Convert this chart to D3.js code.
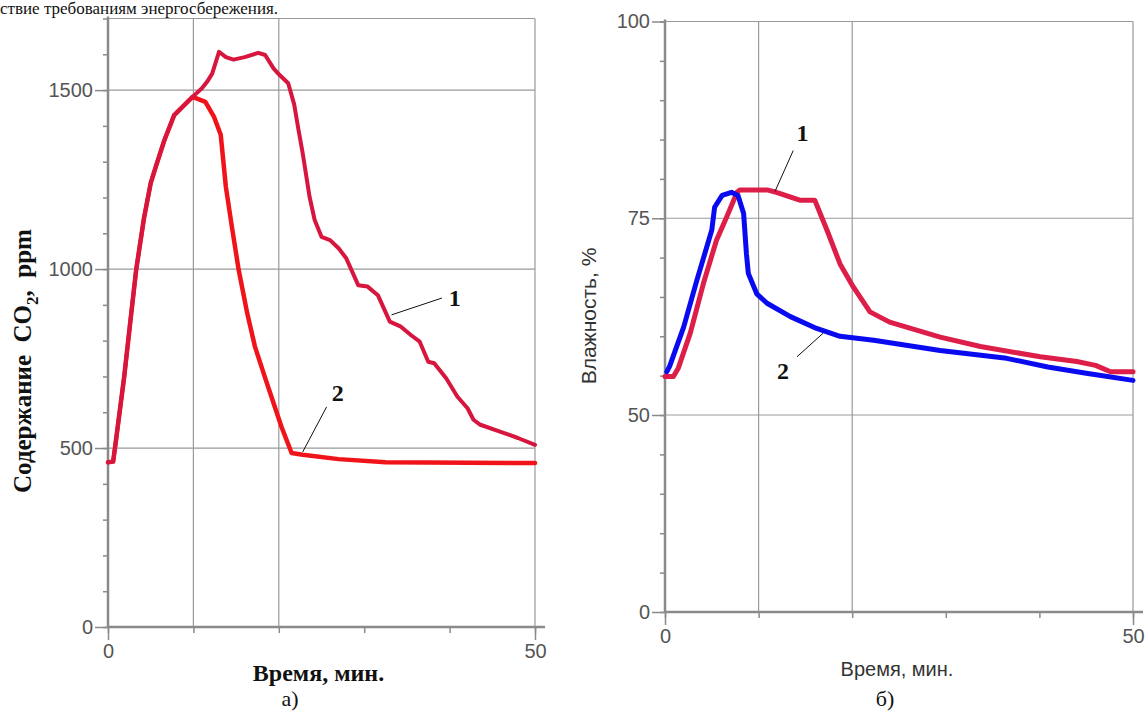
<!DOCTYPE html>
<html>
<head>
<meta charset="utf-8">
<script src="https://cdn.jsdelivr.net/npm/d3@7"></script>
<style>
	body { margin: 0; background: #fff; }
	svg { display: block; }
</style>
</head>
<body>
<div id="container"></div>
<script>
//// Two panels: CO2 (а) and humidity (б) vs time ////

// x axis (time, min)
const timeTicks = [0, 10, 20, 30, 40, 50];
const timeLabels = [0, 50];
const timeGrid = [10, 20, 50];

// panel а: CO2, ppm
const co2Ticks = d3.range(0, 1701, 100);
const co2Labels = [0, 500, 1000, 1500];
const co2Grid = [500, 1000, 1500, 1700];

// [time, ppm]
const co2Curve1 = [[0,460],[0.6,462],[0.9,515],[1.9,700],[2.6,850],[3.3,998],[4.2,1140],[5.0,1240],[5.6,1286],[6.6,1360],[7.75,1430],[9.9,1481],[11.0,1505],[11.6,1523],[12.2,1546],[13.0,1607],[13.8,1592],[14.7,1585],[16.0,1592],[17.6,1604],[18.4,1598],[19.4,1560],[20.1,1542],[21.1,1519],[21.8,1460],[22.3,1390],[22.8,1323],[23.6,1202],[24.2,1137],[25.0,1090],[26.0,1081],[27.0,1058],[27.9,1030],[29.3,955],[30.4,951],[31.6,927],[33.0,853],[34.3,839],[35.5,815],[36.5,797],[37.5,741],[38.2,737],[39.6,695],[40.9,644],[42.1,611],[42.8,579],[43.6,565],[45.9,546],[48.0,528],[50,509]];
const co2Curve2 = [[0,460],[0.6,462],[0.9,515],[1.9,700],[2.6,850],[3.3,998],[4.2,1140],[5.0,1240],[5.6,1286],[6.6,1360],[7.75,1430],[9.9,1481],[11.4,1467],[12.4,1426],[13.2,1375],[13.8,1230],[14.5,1119],[15.3,998],[16.3,877],[17.2,784],[18.4,696],[19.0,653],[20.3,560],[21.5,486],[22.8,481],[27,469],[32.5,460],[50,458]];

// panel б: humidity, %
const humTicks = [0, 10, 20, 30, 40, 50, 55, 60, 65, 70, 75, 80, 85, 90, 95, 100];
const humLabels = [0, 50, 75, 100];
const humGrid = [50, 75, 100];

// [time, %]
const humCurve1 = [[0,54.9],[0.9,54.9],[1.4,55.9],[2.7,60.4],[4.1,66.7],[5.5,72.2],[6.6,75.2],[7.7,78.3],[8.0,78.6],[10.9,78.6],[11.9,78.3],[14.4,77.3],[16.0,77.3],[17.3,73.5],[18.7,69.2],[20.1,66.3],[21.9,63.1],[24,61.8],[29.4,59.9],[33.7,58.7],[40.1,57.4],[44,56.8],[46,56.3],[47.6,55.5],[50,55.5]];
const humCurve2 = [[0.2,55.5],[0.5,56.2],[2.0,61.2],[3.4,67.1],[5.0,73.5],[5.3,76.4],[6.1,77.9],[7.1,78.3],[7.8,77.9],[8.4,75.6],[8.7,70.5],[8.9,68],[9.8,65.4],[10.9,64.2],[13.4,62.5],[16.2,61],[18.7,60],[22.3,59.5],[29.4,58.2],[36.5,57.2],[40.9,56.1],[45,55.3],[50,54.4]];

// curve labels: leader start, leader end, text position (data units)
const co2Notes = [{text: "1", from: [33.2, 872], to: [39.1, 919], at: [40.6, 919]},
                  {text: "2", from: [22.8, 489], to: [25.6, 615], at: [26.9, 656]}];
const humNotes = [{text: "1", from: [11.75, 78.4], to: [13.7, 83.6], at: [14.7, 85.9]},
                  {text: "2", from: [14.1, 57.4], to: [16.9, 60.4], at: [12.6, 55.6]}];

const width = 1146, height = 711;
const gridColor = "#9a9a9a", axisColor = "#8a8a8a";
const sans = "'Liberation Sans', Arial, sans-serif";
const serif = "'Liberation Serif', 'Times New Roman', serif";

const svg = d3.create("svg")
	.attr("width", width)
	.attr("height", height)
	.attr("viewBox", [0, 0, width, height]);

// line of text from the page above the figure
svg.append("text")
	.attr("x", 0).attr("y", 14)
	.attr("font-family", serif).attr("font-size", 17)
	.attr("fill", "#111")
	.text("ствие требованиям энергосбережения.");

function panel(opt) {
	const x = opt.x, y = opt.y;
	const g = svg.append("g");
	const [x0, x1] = x.range();
	const y0 = y(y.domain()[0]), y1 = y(y.domain()[y.domain().length - 1]);

	// grid
	g.selectAll(".vgrid").data(timeGrid).join("line")
		.attr("x1", d => x(d)).attr("x2", d => x(d))
		.attr("y1", y0).attr("y2", y1)
		.attr("stroke", gridColor).attr("stroke-width", 1.2);
	g.selectAll(".hgrid").data(opt.grid).join("line")
		.attr("x1", x0).attr("x2", x1)
		.attr("y1", d => y(d)).attr("y2", d => y(d))
		.attr("stroke", gridColor).attr("stroke-width", 1.2);

	// y ticks: minor, then major with labels
	const minorY = d3.axisLeft(y).tickValues(opt.ticks).tickSize(5).tickFormat("").tickSizeOuter(0);
	const majorY = d3.axisLeft(y).tickValues(opt.labels).tickSize(13).tickPadding(2)
		.tickFormat(d3.format("d")).tickSizeOuter(0);
	g.append("g").attr("transform", `translate(${x0},0)`).call(minorY);
	g.append("g").attr("transform", `translate(${x0},0)`).call(majorY);

	// x ticks
	const minorX = d3.axisBottom(x).tickValues(timeTicks).tickSize(6).tickFormat("").tickSizeOuter(0);
	const majorX = d3.axisBottom(x).tickValues(timeLabels).tickSize(13).tickPadding(4)
		.tickFormat(d3.format("d")).tickSizeOuter(0);
	g.append("g").attr("transform", `translate(0,${y0})`).call(minorX);
	g.append("g").attr("transform", `translate(0,${y0})`).call(majorX);

	g.selectAll(".domain").remove();
	g.selectAll(".tick line").attr("stroke", axisColor).attr("stroke-width", 1.5);
	g.selectAll(".tick text")
		.attr("font-family", sans).attr("font-size", 20)
		.attr("fill", "#555");

	// axis lines
	g.append("line").attr("x1", x0).attr("x2", x0).attr("y1", y0).attr("y2", y1 - 2)
		.attr("stroke", axisColor).attr("stroke-width", 2.5);
	g.append("line").attr("x1", x0).attr("x2", x1 + 10).attr("y1", y0).attr("y2", y0)
		.attr("stroke", axisColor).attr("stroke-width", 2.5);

	// curves (last one sits on top)
	const line = d3.line().x(d => x(d[0])).y(d => y(d[1]));
	opt.curves.forEach(c => {
		g.append("path").datum(c.data)
			.attr("d", line)
			.attr("fill", "none")
			.attr("stroke", c.color)
			.attr("stroke-width", c.w)
			.attr("stroke-linejoin", "round")
			.attr("stroke-linecap", "round");
	});

	// curve numbers with leaders
	opt.notes.forEach(n => {
		g.append("line")
			.attr("x1", x(n.from[0])).attr("y1", y(n.from[1]))
			.attr("x2", x(n.to[0])).attr("y2", y(n.to[1]))
			.attr("stroke", "#111").attr("stroke-width", 1);
		g.append("text")
			.attr("x", x(n.at[0])).attr("y", y(n.at[1]))
			.attr("text-anchor", "middle").attr("dy", "0.35em")
			.attr("font-family", serif).attr("font-weight", "bold").attr("font-size", 24)
			.attr("fill", "#111")
			.text(n.text);
	});
	return g;
}

// panel а
const xA = d3.scaleLinear().domain([0, 50]).range([108, 535]);
const yA = d3.scaleLinear().domain([0, 1700]).range([627, 18.5]);
const gA = panel({x: xA, y: yA, ticks: co2Ticks, labels: co2Labels, grid: co2Grid, notes: co2Notes,
	curves: [{data: co2Curve2, color: "#f0141a", w: 4.5}, {data: co2Curve1, color: "#d7163f", w: 4}]});

gA.append("text")
	.attr("x", (xA(0) + xA(50)) / 2 - 3).attr("y", 681)
	.attr("text-anchor", "middle")
	.attr("font-family", serif).attr("font-weight", "bold").attr("font-size", 24)
	.attr("fill", "#111")
	.text("Время, мин.");
gA.append("text")
	.attr("x", 290).attr("y", 706)
	.attr("text-anchor", "middle")
	.attr("font-family", serif).attr("font-size", 22)
	.attr("fill", "#111")
	.text("а)");
const yLabA = gA.append("text")
	.attr("transform", "translate(31,361) rotate(-90)")
	.attr("text-anchor", "middle")
	.attr("font-family", serif).attr("font-weight", "bold").attr("font-size", 25)
	.attr("fill", "#111")
	.style("white-space", "pre");
yLabA.append("tspan").text("Содержание  CO");
yLabA.append("tspan").attr("font-size", 17).attr("dy", 7).text("2");
yLabA.append("tspan").attr("dy", -7).text(",  ppm");

// panel б
const xB = d3.scaleLinear().domain([0, 50]).range([665, 1133]);
const yB = d3.scaleLinear().domain([0, 50, 100]).range([612, 415, 21.5]);
const gB = panel({x: xB, y: yB, ticks: humTicks, labels: humLabels, grid: humGrid, notes: humNotes,
	curves: [{data: humCurve1, color: "#dc1e48", w: 5}, {data: humCurve2, color: "#0a0af0", w: 5}]});

gB.append("text")
	.attr("x", 897).attr("y", 676)
	.attr("text-anchor", "middle")
	.attr("font-family", sans).attr("font-size", 20)
	.attr("fill", "#333")
	.text("Время, мин.");
gB.append("text")
	.attr("x", 885).attr("y", 706)
	.attr("text-anchor", "middle")
	.attr("font-family", serif).attr("font-size", 22)
	.attr("fill", "#111")
	.text("б)");
gB.append("text")
	.attr("transform", "translate(596,316) rotate(-90)")
	.attr("text-anchor", "middle")
	.attr("font-family", sans).attr("font-size", 21)
	.attr("fill", "#333")
	.text("Влажность, %");

container.append(svg.node());
</script>
</body>
</html>
